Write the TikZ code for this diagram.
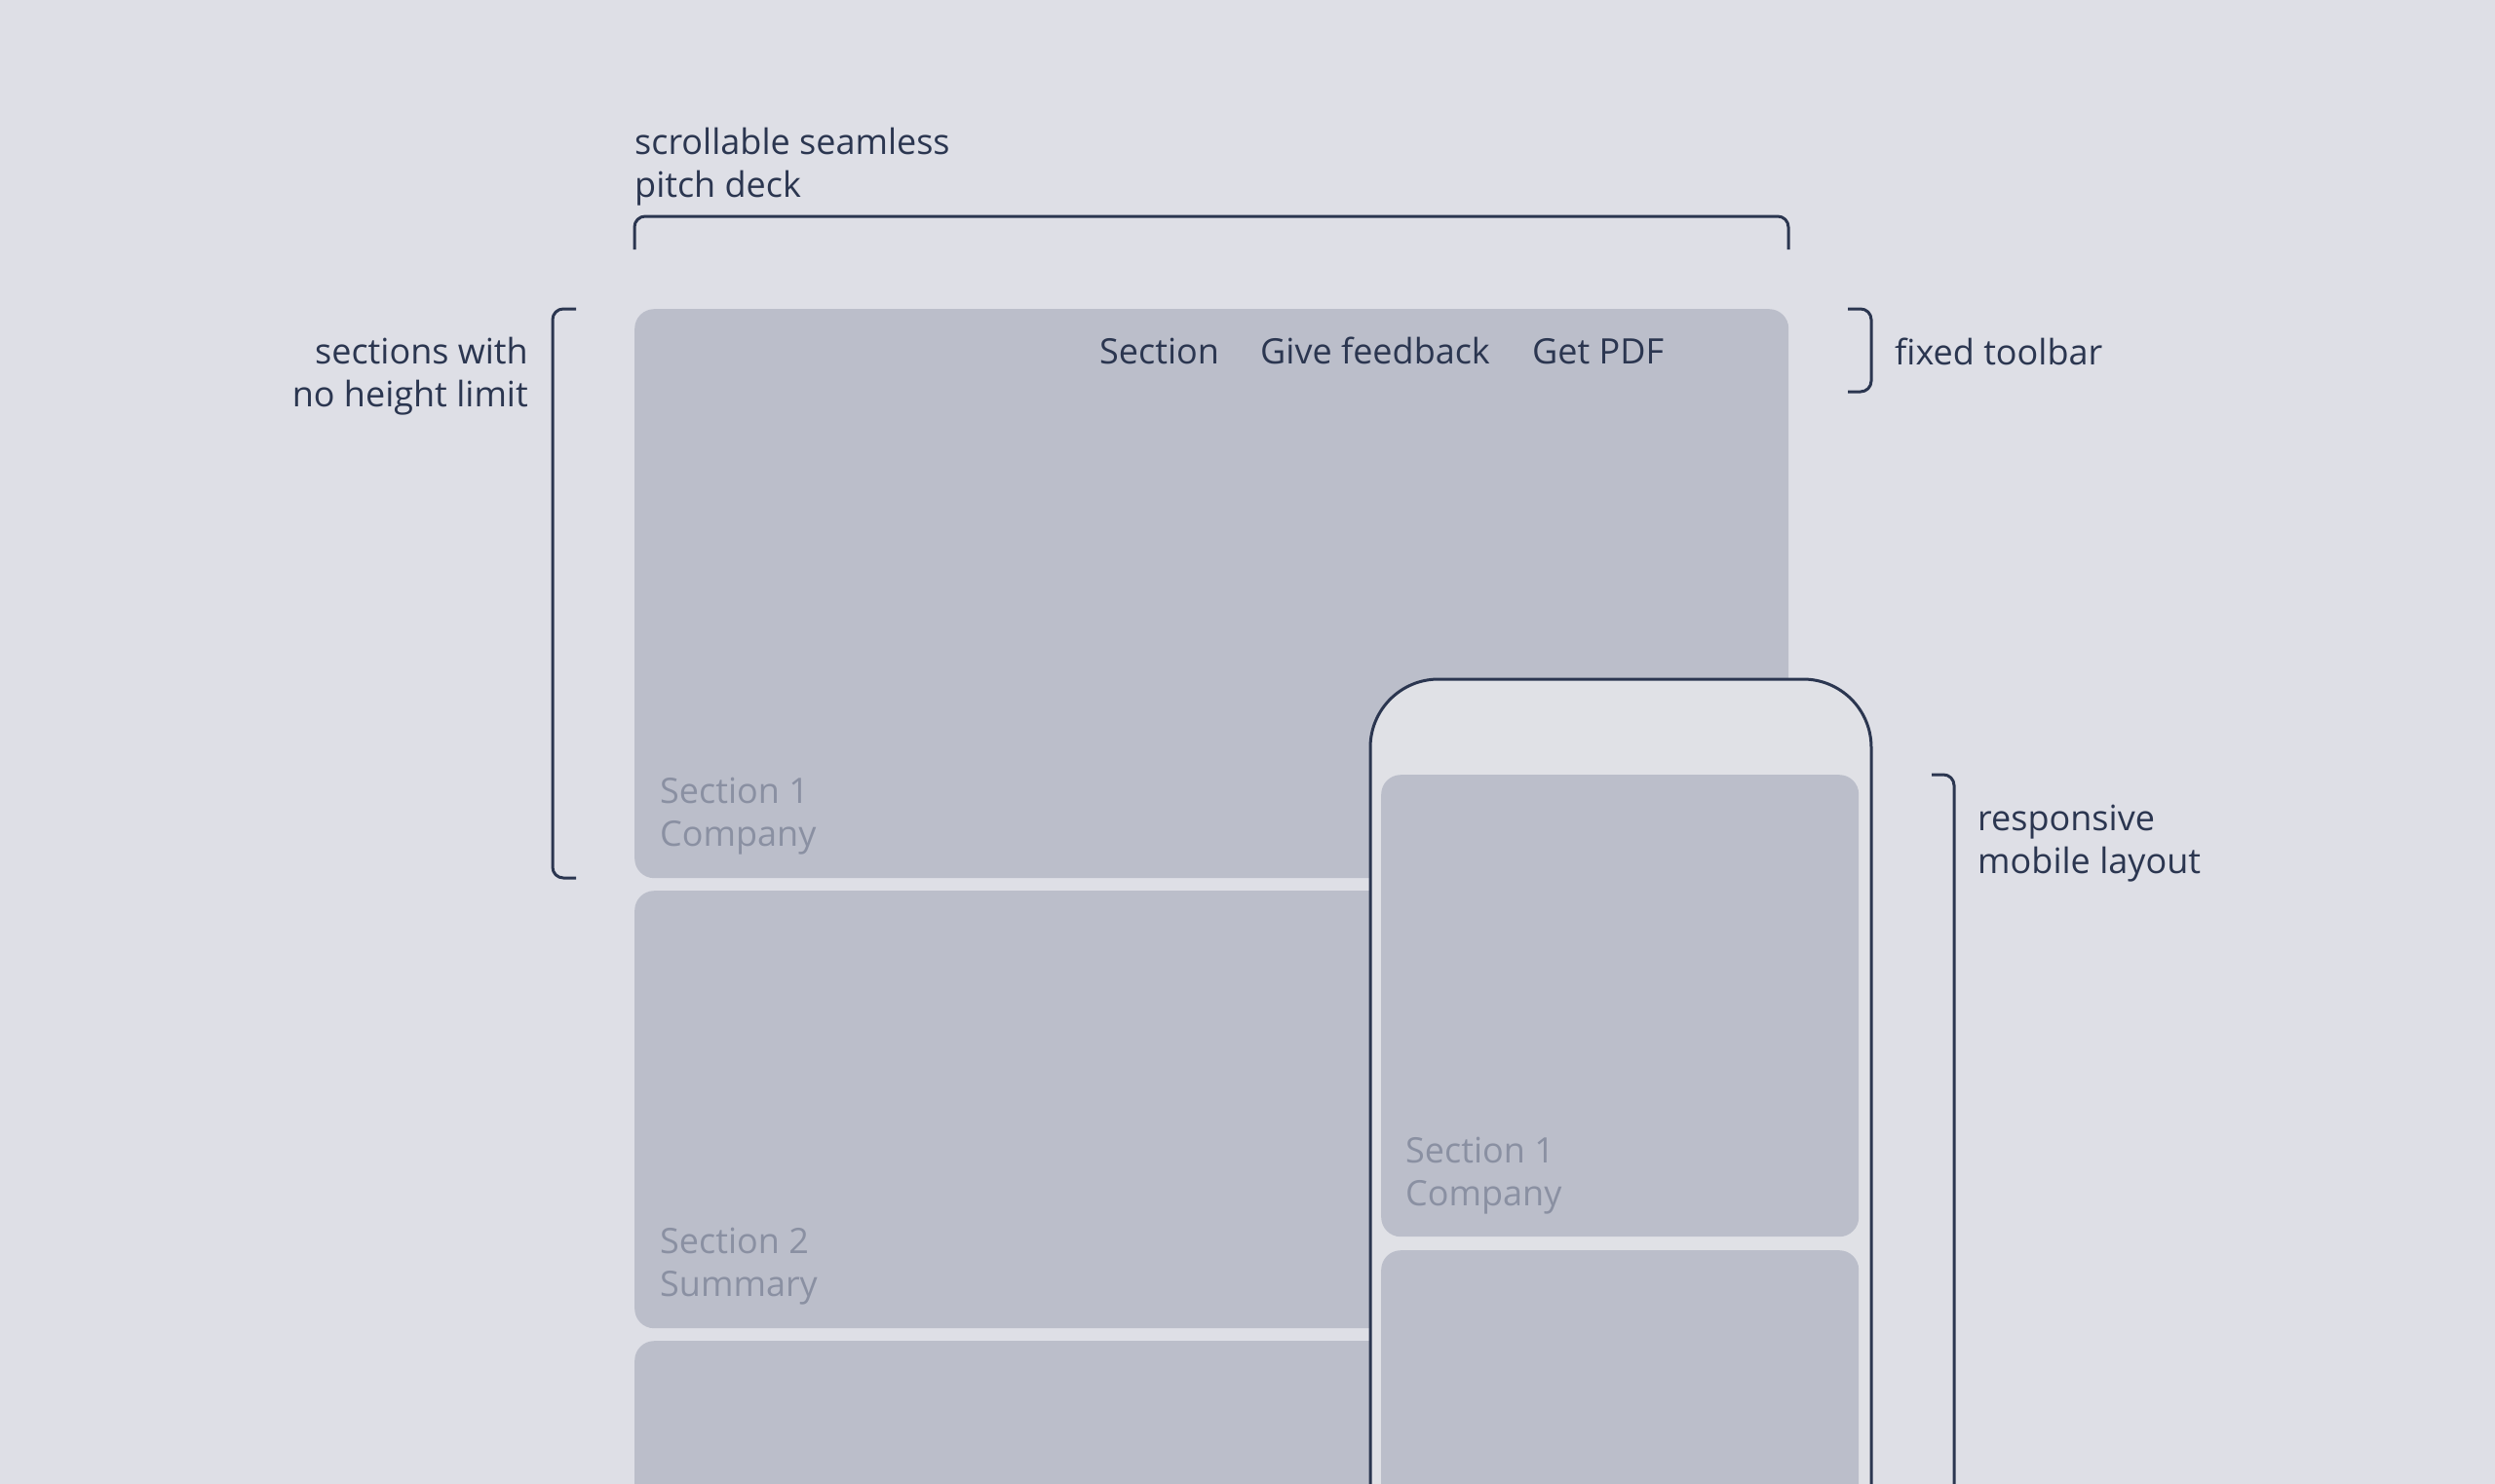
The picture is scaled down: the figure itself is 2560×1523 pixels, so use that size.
\documentclass[tikz,border=0pt]{standalone}
\usepackage{fontspec}
\setmainfont{Open Sans}
\definecolor{bgc}{HTML}{DEDFE6}
\definecolor{cardc}{HTML}{BBBECA}
\definecolor{phonec}{HTML}{E0E1E6}
\definecolor{navy}{HTML}{2B3650}
\definecolor{graytxt}{HTML}{8A90A2}
\tikzset{
  card/.style={rectangle, rounded corners=20pt, fill=cardc, draw=none, inner sep=0pt, anchor=north west},
  bracketline/.style={draw=navy, line width=3pt, rounded corners=11pt},
  lbl/.style={text=navy, inner sep=0pt, font=\fontsize{36}{44}\selectfont},
  graylbl/.style={text=graytxt, inner sep=0pt, align=left, anchor=west, font=\fontsize{36}{44}\selectfont},
}
\begin{document}
\begin{tikzpicture}[x=1pt,y=-1pt]
\useasboundingbox (0,0) rectangle (2560,1523);
\fill[bgc] (0,0) rectangle (2560,1523);
\clip (0,0) rectangle (2560,1523);

% desktop cards
\node[card, minimum width=1184pt, minimum height=584pt] (card1) at (651,317) {};
\node[card, minimum width=1184pt, minimum height=449pt] (card2) at (651,914) {};
\node[card, minimum width=1184pt, minimum height=300pt] (card3) at (651,1376) {};

\node[graylbl] (c1txt) at (677,838) {Section 1\\Company};
\node[graylbl] (c2txt) at (677,1300) {Section 2\\Summary};

% toolbar
\node[lbl, anchor=base west] (tbsec) at (1128,373) {Section};
\node[lbl, anchor=base west] (tbfb) at (1293,373) {Give feedback};
\node[lbl, anchor=base west] (tbpdf) at (1572,373) {Get PDF};

% top bracket
\draw[bracketline] (651,256) -- (651,222) -- (1835,222) -- (1835,256);
\node[lbl, align=left, anchor=west] (scroll) at (651,171) {scrollable seamless\\pitch deck};

% left bracket
\draw[bracketline] (591,317) -- (567,317) -- (567,901) -- (591,901);
\node[lbl, align=right, anchor=east] (sect) at (542,386) {sections with\\no height limit};

% fixed toolbar bracket
\draw[bracketline] (1896,317) -- (1920,317) -- (1920,402) -- (1896,402);
\node[lbl, anchor=base west] (fixed) at (1944,374) {fixed toolbar};

% phone
\draw[draw=navy, line width=3pt, fill=phonec, rounded corners=70pt] (1406,1700) -- (1406,697) -- (1920,697) -- (1920,1700);
\node[card, minimum width=490pt, minimum height=474pt] (pcard1) at (1417,795) {};
\node[card, minimum width=490pt, minimum height=400pt] (pcard2) at (1417,1283) {};
\node[graylbl] (p1txt) at (1442,1207) {Section 1\\Company};

% responsive bracket
\draw[bracketline] (1982,795) -- (2005,795) -- (2005,1700);
\node[lbl, align=left, anchor=west] (resp) at (2029,866) {responsive\\mobile layout};
\end{tikzpicture}
\end{document}
